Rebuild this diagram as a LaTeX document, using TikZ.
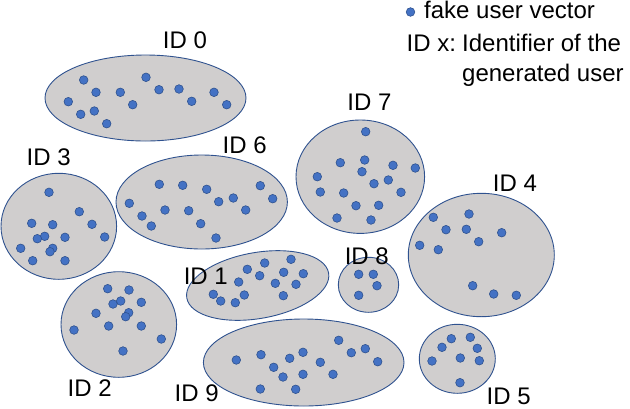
\documentclass[tikz,border=0pt]{standalone}
\usepackage{fontspec}
\setmainfont{Liberation Sans}
\usepackage{tikz}
\definecolor{clfill}{RGB}{208,206,206}
\definecolor{clline}{RGB}{47,82,143}
\definecolor{dotblue}{RGB}{68,114,196}

\begin{document}
\begin{tikzpicture}[x=1pt,y=-1pt,
  cluster/.style={fill=clfill,draw=clline,line width=0.9pt},
  uvec/.style={fill=dotblue,draw=clline,line width=0.6pt},
  idlabel/.style={inner sep=0pt,font=\fontsize{24}{28}\selectfont}]
\useasboundingbox (0,0) rectangle (630,408);
% ID 0
\draw[cluster] (145.5,98) ellipse (100.5 and 43);
\foreach \x/\y in {83.7/80,96/92.3,120.3/92.3,146/77.3,159/89.7,179/89,214/92.3,
  68.3/101.7,132.7/104.7,191.7/101.3,226.7/104.7,80.7/114.3,94.3/111,106.7/123.7}
  \draw[uvec] (\x,\y) circle (4.3);
% ID 6
\draw[cluster] (201.7,202) ellipse (85.7 and 47);
\foreach \x/\y in {159.3/184.3,182.7/185.3,206.7/189.3,260.3/185.7,129.3/203.3,
  218.7/201.7,233.3/198,272.7/198.7,142/216,165/210,188.7/210.7,245.7/210,
  151.3/226,200.7/223.7,216/238}
  \draw[uvec] (\x,\y) circle (4.3);
% ID 7
\draw[cluster] (360.3,176.7) ellipse (64.3 and 56.7);
\foreach \x/\y in {365.7/131.7,340.3/162.7,364.7/160,362/171.7,393/165.3,415.3/168,
  317.3/176.7,374/183.7,388.3/180,320.3/192,343.7/193,401/192.3,356/205.7,
  378.7/205.3,337/218,371/220}
  \draw[uvec] (\x,\y) circle (4.3);
% ID 3
\draw[cluster] (58.8,226.3) ellipse (57.8 and 53);
\foreach \x/\y in {49/192.3,79.3/211.7,31.7/223.3,52.7/224.7,92/224.3,44.7/236.3,
  37.3/238.7,65/237.3,104.7/237,20.7/248.3,52.7/248.3,50/251.7,32.7/260.7,65/260.7}
  \draw[uvec] (\x,\y) circle (4.3);
% ID 4
\draw[cluster] (481.3,255) ellipse (73 and 61.7);
\foreach \x/\y in {433.3/217.3,469/214,446/229.7,466.3/229.3,501.7/232.7,478.7/241.7,
  419.7/245.3,438.3/249.7,472.7/285.7,493.7/294,516.3/295.3}
  \draw[uvec] (\x,\y) circle (4.3);
% ID 1
\draw[cluster,rotate around={10:(257.7,285.5)}] (257.7,285.5) ellipse (72 and 33);
\foreach \x/\y in {247.3/269.3,264.7/263,291/259.3,259.7/275.7,283.7/272.3,303.3/273.7,
  238.7/282,275.3/283.3,296/284.3,213.3/294.3,220.7/301,244.3/295,235.3/302.7,
  283.3/295.7}
  \draw[uvec] (\x,\y) circle (4.3);
% ID 8
\draw[cluster] (368.5,284.8) ellipse (30.2 and 27.5);
\foreach \x/\y in {358.7/274.3,373.3/274.3,377/285.7,358.7/295.3}
  \draw[uvec] (\x,\y) circle (4.3);
% ID 2
\draw[cluster] (118.8,324.5) ellipse (57.8 and 52.8);
\foreach \x/\y in {107.7/288.7,129/290,120.7/301,113/304,141.3/302.3,96/313.3,
  128.7/312.7,125.7/316.7,108.7/326,141.3/326,74/330,161.3/339,123/351}
  \draw[uvec] (\x,\y) circle (4.3);
% ID 9
\draw[cluster] (303.7,362.5) ellipse (100.3 and 43.5);
\foreach \x/\y in {236.3/360,261/354.7,273.7/367.3,289.7/358.3,303/352.3,283/377,
  303/374.3,320.3/362.3,338.7/340.3,351.3/352.7,365.3/348.7,377.7/361.7,333/374.3,
  260.3/389,295.7/389.3}
  \draw[uvec] (\x,\y) circle (4.3);
% ID 5
\draw[cluster] (457.3,358.8) ellipse (38 and 34.5);
\foreach \x/\y in {451.3/338.7,470.3/337.3,442/347.3,477.3/348.3,460.3/358,
  479.3/360.7,432/361,460/382.7}
  \draw[uvec] (\x,\y) circle (4.3);

% labels
\node[idlabel] (id0) at (185,40) {ID 0};
\node[idlabel] (id6) at (244.7,145) {ID 6};
\node[idlabel] (id3) at (48.7,157.7) {ID 3};
\node[idlabel] (id7) at (369.5,102.5) {ID 7};
\node[idlabel] (id4) at (515,183) {ID 4};
\node[idlabel] (id8) at (366.8,256.5) {ID 8};
\node[idlabel] (id1) at (205.8,276) {ID 1};
\node[idlabel] (id2) at (89.7,388) {ID 2};
\node[idlabel] (id9) at (196.7,393.5) {ID 9};
\node[idlabel] (id5) at (508.7,396) {ID 5};

% legend
\draw[uvec] (410.5,12) circle (4.3);
\node[idlabel,anchor=base west] (fake) at (424,18.5) {fake user vector};
\node[idlabel,anchor=base west] (idx) at (406.5,51.5) {ID x:};
\node[idlabel,anchor=base west] (ident) at (462,51.5) {Identifier of the};
\node[idlabel,anchor=base west] (gen) at (462,81.5) {generated user};
\end{tikzpicture}
\end{document}
